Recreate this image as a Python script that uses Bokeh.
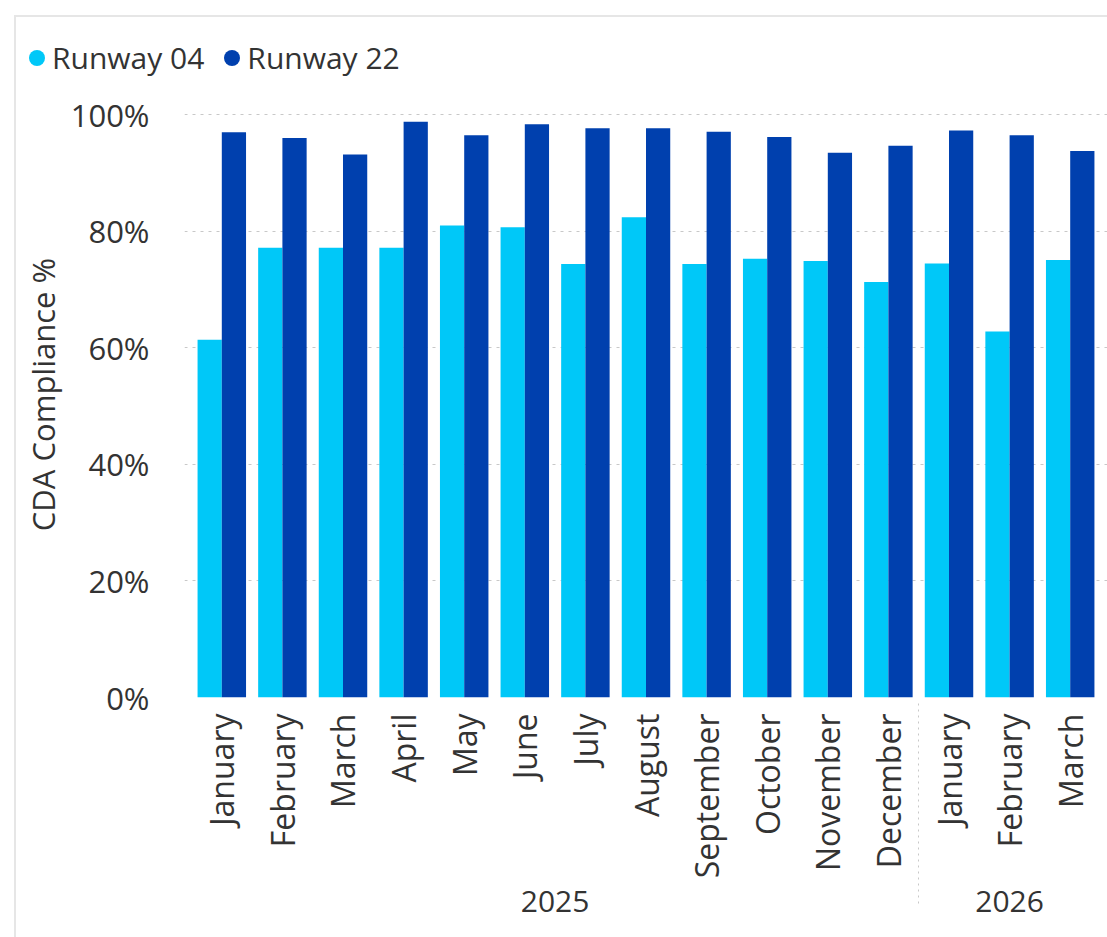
import math
from bokeh.plotting import figure
from bokeh.layouts import column
from bokeh.models import (FactorRange, Range1d, FixedTicker, PrintfTickFormatter,
                          ColumnDataSource, Div)
from bokeh.transform import dodge
from bokeh.embed import file_html
from bokeh.resources import INLINE

years = ["2025"] * 12 + ["2026"] * 3
months = ["January", "February", "March", "April", "May", "June", "July",
          "August", "September", "October", "November", "December",
          "January", "February", "March"]
runway_04 = [61.4, 77.2, 77.2, 77.2, 81.0, 80.7, 74.4, 82.4, 74.4, 75.3, 74.9, 71.3, 74.5, 62.8, 75.1]
runway_22 = [97.0, 96.0, 93.2, 98.8, 96.5, 98.4, 97.7, 97.7, 97.1, 96.2, 93.5, 94.7, 97.3, 96.5, 93.8]
series_names = ["Runway 04", "Runway 22"]
y_ticks = [0, 20, 40, 60, 80, 100]
colors = ["#00C8F8", "#0040AE"]
text_color = "#333333"
font = "Open Sans"

x = list(zip(years, months))
src = ColumnDataSource(dict(x=x, r04=runway_04, r22=runway_22))

# ---------------- legend strip (HTML) ----------------
items_html = ""
for i, (name, c) in enumerate(zip(series_names, colors)):
    ml = 0 if i == 0 else 20
    items_html += (f'<span style="display:inline-block;width:16px;height:16px;border-radius:50%;'
                   f'background:{c};margin-left:{ml}px;margin-right:7px;"></span>'
                   f'<span>{name}</span>')
legend_html = (
    f'<div style="position:relative;width:1107px;height:88px;font-family:\'{font}\';'
    f'font-size:30px;color:{text_color};">'
    f'<div style="position:absolute;left:14px;top:15px;width:1100px;height:940px;'
    f'border-left:2px solid #e6e6e6;border-top:2px solid #e6e6e6;z-index:5;pointer-events:none;"></div>'
    f'<div style="position:absolute;left:29px;top:38px;height:40px;display:flex;'
    f'align-items:center;white-space:nowrap;line-height:40px;">{items_html}</div>'
    f'</div>'
)
lg = Div(text=legend_html, width=1107, height=88, margin=0)

# ---------------- main chart ----------------
xr = FactorRange(factors=x, factor_padding=0, group_padding=0,
                 subgroup_padding=0, range_padding=0.1155,
                 range_padding_units="absolute")

p = figure(width=1107, height=849, x_range=xr, y_range=Range1d(0, 104),
           output_backend="svg", toolbar_location=None,
           min_border_left=184, min_border_right=0,
           min_border_top=3, min_border_bottom=240, margin=0)
p.outline_line_color = None

p.vbar(x=dodge("x", -0.2, range=p.x_range), top="r04", width=0.4,
       source=src, fill_color=colors[0], line_color=None)
p.vbar(x=dodge("x", 0.2, range=p.x_range), top="r22", width=0.4,
       source=src, fill_color=colors[1], line_color=None)

# y axis
p.yaxis.ticker = FixedTicker(ticks=y_ticks)
p.yaxis.formatter = PrintfTickFormatter(format="%d%%")
p.yaxis.axis_line_color = None
p.yaxis.major_tick_line_color = None
p.yaxis.minor_tick_line_color = None
p.yaxis.major_label_standoff = 29
p.yaxis.major_label_text_font = font
p.yaxis.major_label_text_font_size = "31px"
p.yaxis.major_label_text_color = text_color
p.yaxis.axis_label = "CDA Compliance %"
p.yaxis.axis_label_text_font = font
p.yaxis.axis_label_text_font_size = "31px"
p.yaxis.axis_label_text_font_style = "normal"
p.yaxis.axis_label_text_color = text_color
p.yaxis.axis_label_standoff = 4

p.ygrid.ticker = FixedTicker(ticks=y_ticks)
p.ygrid.grid_line_color = "#c8c8c8"
p.ygrid.grid_line_dash = "3 5"
p.ygrid.grid_line_width = 1
p.xgrid.grid_line_color = None

# x axis
p.xaxis.axis_line_color = None
p.xaxis.major_tick_line_color = None
p.xaxis.minor_tick_line_color = None
p.xaxis.major_label_orientation = math.pi / 2
p.xaxis.major_label_standoff = 10
p.xaxis.major_label_text_font = font
p.xaxis.major_label_text_font_size = "32px"
p.xaxis.major_label_text_color = text_color
p.xaxis.group_text_font = font
p.xaxis.group_text_font_size = "30px"
p.xaxis.group_text_font_style = "normal"
p.xaxis.group_text_color = text_color
p.xaxis.separator_line_color = "#c8c8c8"
p.xaxis.separator_line_dash = "2 4"
p.xaxis.separator_line_width = 1

layout = column(lg, p, spacing=0)
open("out.html", "w").write(file_html(layout, INLINE))
